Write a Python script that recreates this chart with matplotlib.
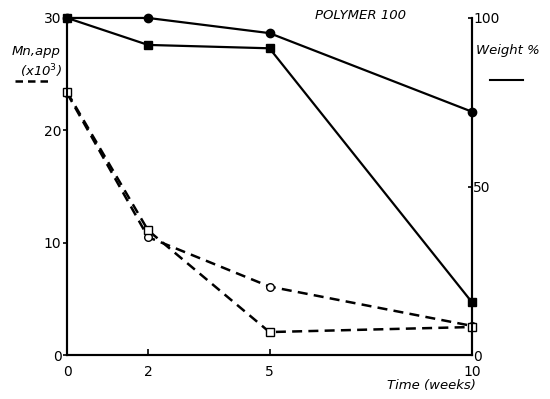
import matplotlib.pyplot as plt

# time in weeks
weeks = [0, 2, 5, 10]

# weight % (right axis, solid lines)
weight_circle = [100, 100, 95.5, 72.2]
weight_square = [100, 92, 91, 15.7]

# Mn,app x10^3 (left axis, dashed lines)
mn_circle = [23.3, 10.5, 6.1, 2.6]
mn_square = [23.4, 11.1, 2.05, 2.5]

left_ticks = [0, 10, 20, 30]
right_ticks = [0, 50, 100]
x_ticks = [0, 2, 5, 10]

plt.rcParams['font.family'] = 'DejaVu Sans'

fig = plt.figure(figsize=(5.5, 3.99), dpi=100)
ax = fig.add_axes([0.122, 0.110, 0.736, 0.845])
ax2 = ax.twinx()

dash = (0, (4, 2.5))
ax.plot(weeks, mn_circle, color='black', lw=1.8, linestyle=dash,
        marker='o', markersize=5.5, markerfacecolor='white', markeredgewidth=1.0,
        clip_on=False, zorder=3)
ax.plot(weeks, mn_square, color='black', lw=1.8, linestyle=dash,
        marker='s', markersize=5.5, markerfacecolor='white', markeredgewidth=1.0,
        clip_on=False, zorder=3)

ax2.plot(weeks, weight_circle, color='black', lw=1.6,
         marker='o', markersize=6, clip_on=False)
ax2.plot(weeks, weight_square, color='black', lw=1.6,
         marker='s', markersize=6, clip_on=False)

ax.set_xlim(0, 10)
ax.set_ylim(0, 30)
ax2.set_ylim(0, 100)

for a in (ax, ax2):
    a.spines['top'].set_visible(False)
    for s in a.spines.values():
        s.set_linewidth(1.5)

ax.set_xticks(x_ticks)
ax.set_yticks(left_ticks)
ax2.set_yticks(right_ticks)
ax.tick_params(axis='x', direction='in', length=4, width=1.2, labelsize=10, pad=7)
ax.tick_params(axis='y', direction='out', length=3, width=1.2, labelsize=10, pad=1)
ax2.tick_params(axis='y', direction='in', length=3, width=1.2, labelsize=10, pad=1)

fig.text(0.655, 0.962, 'POLYMER 100', style='italic', fontsize=9.5, ha='center', va='center')
fig.text(0.065, 0.872, 'Mn,app', style='italic', fontsize=9.5, ha='center', va='center')
fig.text(0.075, 0.822, r'(x10$^3$)', style='italic', fontsize=9.5, ha='center', va='center')
fig.add_artist(plt.Line2D([0.027, 0.095], [0.798, 0.798], color='black', lw=1.8,
                          linestyle=(0, (3, 2)), transform=fig.transFigure))
fig.text(0.865, 0.873, 'Weight %', style='italic', fontsize=9.5, ha='left', va='center')
fig.add_artist(plt.Line2D([0.89, 0.95], [0.80, 0.80], color='black', lw=1.5,
                          transform=fig.transFigure))
fig.text(0.865, 0.033, 'Time (weeks)', style='italic', fontsize=9.5, ha='right', va='center')

fig.savefig('out.png', dpi=100)
